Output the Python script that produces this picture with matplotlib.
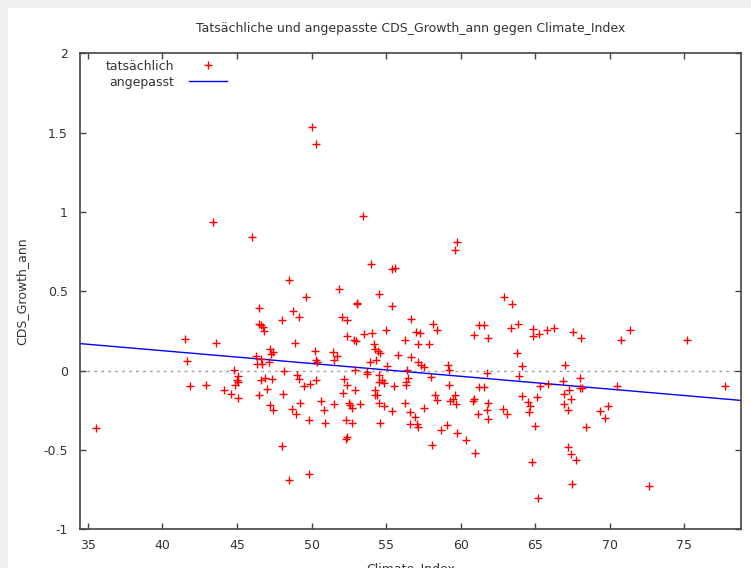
import numpy as np
import matplotlib
matplotlib.use("Agg")
import matplotlib.pyplot as plt
from matplotlib.patches import Rectangle
from matplotlib.ticker import FuncFormatter

# Werte (Climate_Index, CDS_Growth_ann)
pts = [
    (50.00, 1.535), (50.32, 1.43), (43.42, 0.939), (46.03, 0.842), (53.47, 0.974), (53.96, 0.670),
    (55.39, 0.638), (55.61, 0.649), (48.49, 0.573), (51.81, 0.512), (49.63, 0.464), (54.52, 0.485),
    (59.74, 0.811), (59.65, 0.758), (62.91, 0.464),
    (53.02, 0.422), (53.08, 0.426), (55.39, 0.41), (46.5, 0.395), (48.78, 0.374), (49.13, 0.336),
    (47.99, 0.319), (52.04, 0.338), (52.37, 0.317), (56.66, 0.328), (46.5, 0.296), (46.63, 0.285),
    (46.72, 0.275), (46.84, 0.25), (54.99, 0.254), (57.0, 0.243), (57.24, 0.237), (53.49, 0.229),
    (54.07, 0.237), (52.35, 0.218), (41.52, 0.199), (52.82, 0.191), (52.95, 0.185), (56.26, 0.191),
    (43.62, 0.172), (48.86, 0.172), (54.18, 0.170), (57.17, 0.166), (47.24, 0.139), (47.42, 0.117),
    (47.28, 0.107), (54.27, 0.134), (54.45, 0.122), (54.6, 0.113), (50.23, 0.124), (51.41, 0.117),
    (51.74, 0.09), (51.48, 0.065), (55.83, 0.098), (56.7, 0.086), (46.28, 0.090), (46.61, 0.071),
    (46.35, 0.04), (46.68, 0.04), (47.12, 0.057), (41.66, 0.060), (50.27, 0.069), (50.4, 0.054),
    (54.34, 0.065), (53.94, 0.054), (57.17, 0.054), (55.05, 0.031), (44.81, 0.002), (48.17, 0.0),
    (52.93, 0.002), (53.71, -0.009), (53.75, -0.019), (56.43, 0.006), (45.09, -0.034), (44.98, -0.061),
    (45.09, -0.072), (46.86, -0.047), (47.35, -0.055), (46.61, -0.061), (49.03, -0.030), (49.13, -0.055),
    (50.3, -0.061), (49.92, -0.082), (49.47, -0.099), (52.21, -0.055), (52.37, -0.088), (52.93, -0.12),
    (54.52, -0.03), (54.72, -0.061), (54.49, -0.072), (54.87, -0.08), (56.48, -0.047), (56.33, -0.072),
    (56.35, -0.093), (55.54, -0.099), (41.88, -0.099), (42.93, -0.093), (44.14, -0.12), (44.63, -0.145),
    (44.89, -0.093), (45.09, -0.172), (46.99, -0.118), (46.5, -0.151), (48.09, -0.145), (54.27, -0.124),
    (54.38, -0.151), (54.25, -0.156), (52.08, -0.141), (49.23, -0.204), (50.63, -0.192), (50.81, -0.246),
    (51.52, -0.212), (52.48, -0.204), (52.71, -0.233), (52.59, -0.219), (53.22, -0.212), (54.49, -0.204),
    (54.89, -0.225), (55.39, -0.254), (56.28, -0.204), (56.57, -0.261), (56.95, -0.292), (47.19, -0.214),
    (47.39, -0.246), (48.71, -0.242), (48.98, -0.271), (49.83, -0.313), (50.87, -0.33), (52.28, -0.309),
    (52.73, -0.33), (54.58, -0.33), (56.57, -0.334), (57.1, -0.334), (57.13, -0.355), (35.58, -0.359),
    (52.35, -0.418), (52.31, -0.429), (47.99, -0.475), (49.85, -0.654), (48.49, -0.687),
    (63.47, 0.418), (58.15, 0.296), (58.4, 0.254), (61.24, 0.285), (61.53, 0.285), (63.87, 0.296),
    (63.38, 0.269), (64.87, 0.265), (64.87, 0.216), (65.27, 0.233), (65.81, 0.254), (66.26, 0.269),
    (60.9, 0.222), (61.86, 0.208), (67.51, 0.241), (68.07, 0.208), (70.75, 0.195), (71.35, 0.254),
    (75.19, 0.195), (57.87, 0.166), (63.76, 0.113), (57.37, 0.038), (57.55, 0.023), (59.14, 0.033),
    (59.2, 0.006), (64.09, 0.031), (66.96, 0.038), (61.75, -0.015), (63.94, -0.034), (68.0, -0.047),
    (58.0, -0.04), (66.88, -0.066), (67.26, -0.12), (68.0, -0.107), (68.11, -0.107), (59.21, -0.088),
    (61.24, -0.103), (61.53, -0.103), (65.32, -0.095), (65.88, -0.082), (70.45, -0.099), (77.73, -0.097),
    (58.29, -0.156), (58.4, -0.183), (57.57, -0.238), (59.63, -0.156), (59.51, -0.176), (59.29, -0.192),
    (59.69, -0.208), (60.9, -0.181), (60.85, -0.192), (61.86, -0.202), (61.79, -0.250), (61.86, -0.307),
    (61.15, -0.275), (62.86, -0.24), (63.09, -0.271), (64.09, -0.162), (64.54, -0.198), (64.65, -0.225),
    (64.56, -0.261), (65.12, -0.166), (66.93, -0.149), (67.38, -0.181), (66.93, -0.212), (67.22, -0.246),
    (69.34, -0.254), (69.9, -0.223), (69.68, -0.299), (68.38, -0.357), (59.07, -0.34), (58.67, -0.372),
    (59.78, -0.391), (60.36, -0.439), (64.99, -0.349), (58.07, -0.466), (60.95, -0.519), (67.22, -0.481),
    (67.38, -0.528), (67.73, -0.565), (64.77, -0.576), (67.44, -0.712), (72.59, -0.729), (65.2, -0.800),
]
climate_index = [p[0] for p in pts]
cds_growth = [p[1] for p in pts]

# angepasste Gerade
fit_intercept = 0.449
fit_slope = -0.00808

x_ticks = [35, 40, 45, 50, 55, 60, 65, 70, 75]
y_ticks = [-1, -0.5, 0, 0.5, 1, 1.5, 2]

dark = "#333333"
plt.rcParams["font.family"] = "DejaVu Sans"
plt.rcParams["font.size"] = 9

fig = plt.figure(figsize=(7.51, 5.68), dpi=100, facecolor="#f0f0f0")
fig.patches.append(Rectangle((8 / 751, 0), 1, 1 - 8 / 568, transform=fig.transFigure,
                             facecolor="white", edgecolor="none", zorder=-10))
ax = fig.add_axes([80.3 / 751, 1 - 529.3 / 568, 660.4 / 751, 476 / 568])
ax.set_xlim(34.5, 78.77)
ax.set_ylim(-1, 2)

ax.axhline(0, color="#a0a0a0", lw=1, ls=(0, (2, 3)), zorder=1)
ax.plot(climate_index, cds_growth, ls="none", marker="+", color="red", ms=6, mew=1,
        label="tatsächlich", zorder=3)
xx = np.array(ax.get_xlim())
ax.plot(xx, fit_intercept + fit_slope * xx, color="blue", lw=1, label="angepasst", zorder=2)

ax.set_xticks(x_ticks)
ax.set_yticks(y_ticks)
ax.yaxis.set_major_formatter(FuncFormatter(lambda v, p: "%g" % v))
ax.tick_params(direction="in", length=4, width=1, colors="#444444", labelcolor=dark,
               top=True, right=True, labelsize=9)
ax.tick_params(axis="x", pad=7)
ax.tick_params(axis="y", pad=9)
for s in ax.spines.values():
    s.set_color("#444444")
    s.set_linewidth(1.2)

ax.set_title("Tatsächliche und angepasste CDS_Growth_ann gegen Climate_Index", fontsize=9,
             color=dark, pad=15)
ax.set_xlabel("Climate_Index", color=dark, labelpad=7)
ax.set_ylabel("CDS_Growth_ann", color=dark, va="center")
ax.yaxis.set_label_coords((22 - 80.3) / 660.4, 0.5)

leg = ax.legend(loc="upper left", frameon=False, markerfirst=False, alignment="right",
                handlelength=3.0, handletextpad=1.2, labelspacing=0.25,
                borderaxespad=0.3, bbox_to_anchor=(0.025, 1.005))
for t in leg.get_texts():
    t.set_color(dark)

fig.savefig("out.png", dpi=100, facecolor=fig.get_facecolor())
